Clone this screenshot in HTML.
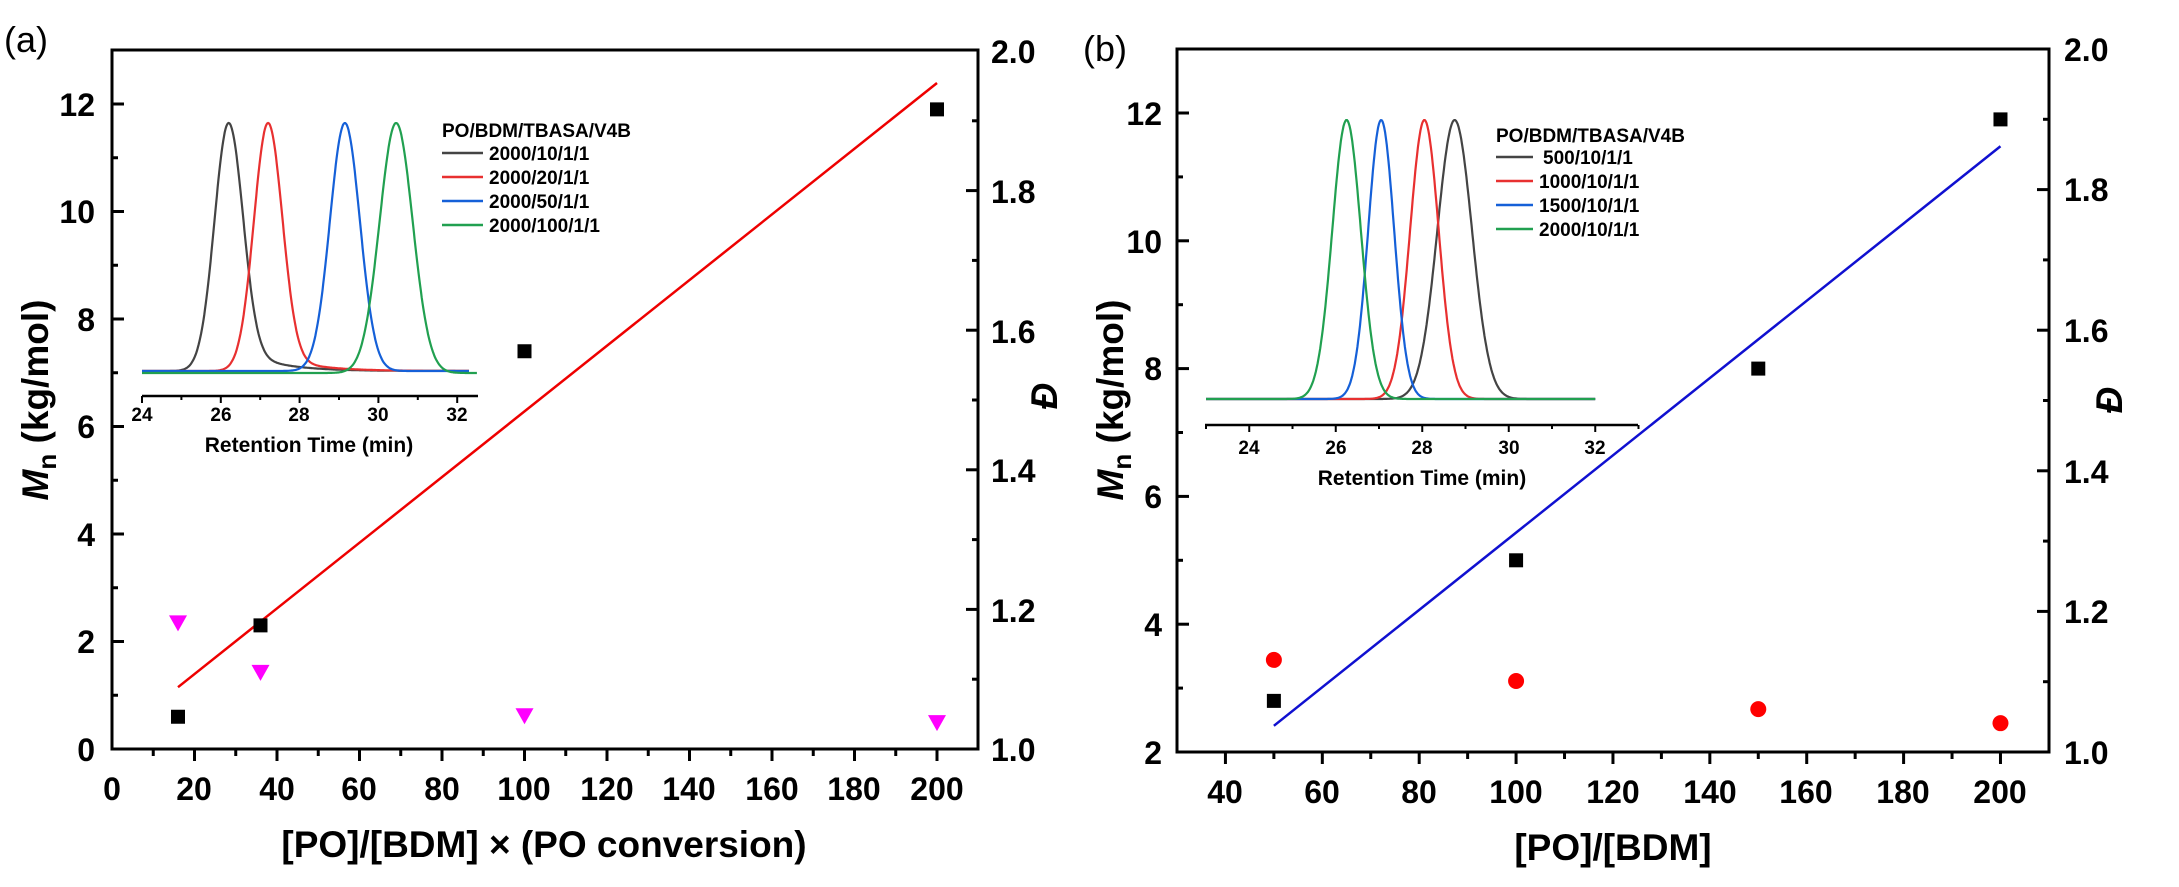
<!DOCTYPE html>
<html><head><meta charset="utf-8"><style>
html,body{margin:0;padding:0;background:#fff;}
svg{display:block;font-family:"Liberation Sans",Arial,sans-serif;}
.t{font-weight:bold;font-size:32px;fill:#000;}
.ti{font-weight:bold;font-size:37px;fill:#000;}
.s{font-weight:bold;font-size:19px;fill:#000;}
.it{font-weight:bold;font-size:21px;fill:#000;}
</style></head><body>
<svg id="sv" width="2179" height="887" viewBox="0 0 2179 887" xmlns="http://www.w3.org/2000/svg">
<rect width="2179" height="887" fill="#fff"/>
<g id="g"></g>
<!-- Panel a text -->
<text x="4" y="52" font-size="36" fill="#000">(a)</text>
<g class="t" text-anchor="middle">
<text x="112" y="800">0</text><text x="194" y="800">20</text><text x="277" y="800">40</text><text x="359" y="800">60</text><text x="442" y="800">80</text><text x="524" y="800">100</text><text x="607" y="800">120</text><text x="689" y="800">140</text><text x="772" y="800">160</text><text x="854" y="800">180</text><text x="937" y="800">200</text>
</g>
<g class="t" text-anchor="end">
<text x="95" y="761">0</text><text x="95" y="653">2</text><text x="95" y="546">4</text><text x="95" y="438">6</text><text x="95" y="331">8</text><text x="95" y="223">10</text><text x="95" y="116">12</text>
</g>
<g class="t" text-anchor="start">
<text x="991" y="761">1.0</text><text x="991" y="622">1.2</text><text x="991" y="482">1.4</text><text x="991" y="343">1.6</text><text x="991" y="203">1.8</text><text x="991" y="63">2.0</text>
</g>
<text class="ti" x="544" y="857" text-anchor="middle">[PO]/[BDM] × (PO conversion)</text>
<text class="ti" transform="translate(48,400) rotate(-90)" text-anchor="middle"><tspan font-style="italic">M</tspan><tspan font-size="26" dy="8">n</tspan><tspan dy="-8"> (kg/mol)</tspan></text>
<text class="ti" transform="translate(1057,396) rotate(-90)" text-anchor="middle" font-style="italic">Đ</text>
<g class="s" text-anchor="middle">
<text x="142" y="421">24</text><text x="221" y="421">26</text><text x="299" y="421">28</text><text x="378" y="421">30</text><text x="457" y="421">32</text>
</g>
<text class="it" x="309" y="452" text-anchor="middle">Retention Time (min)</text>
<g class="s">
<text x="442" y="137">PO/BDM/TBASA/V4B</text>
<text x="489" y="160">2000/10/1/1</text><text x="489" y="184">2000/20/1/1</text><text x="489" y="208">2000/50/1/1</text><text x="489" y="232">2000/100/1/1</text>
</g>
<!-- Panel b text -->
<text x="1083" y="61" font-size="36" fill="#000">(b)</text>
<g class="t" text-anchor="middle">
<text x="1225" y="803">40</text><text x="1322" y="803">60</text><text x="1419" y="803">80</text><text x="1516" y="803">100</text><text x="1613" y="803">120</text><text x="1710" y="803">140</text><text x="1806" y="803">160</text><text x="1903" y="803">180</text><text x="2000" y="803">200</text>
</g>
<g class="t" text-anchor="end">
<text x="1162" y="764">2</text><text x="1162" y="636">4</text><text x="1162" y="508">6</text><text x="1162" y="380">8</text><text x="1162" y="253">10</text><text x="1162" y="125">12</text>
</g>
<g class="t" text-anchor="start">
<text x="2064" y="764">1.0</text><text x="2064" y="623">1.2</text><text x="2064" y="483">1.4</text><text x="2064" y="342">1.6</text><text x="2064" y="201">1.8</text><text x="2064" y="61">2.0</text>
</g>
<text class="ti" x="1613" y="860" text-anchor="middle">[PO]/[BDM]</text>
<text class="ti" transform="translate(1123,400) rotate(-90)" text-anchor="middle"><tspan font-style="italic">M</tspan><tspan font-size="26" dy="8">n</tspan><tspan dy="-8"> (kg/mol)</tspan></text>
<text class="ti" transform="translate(2122,400) rotate(-90)" text-anchor="middle" font-style="italic">Đ</text>
<g class="s" text-anchor="middle">
<text x="1249" y="454">24</text><text x="1336" y="454">26</text><text x="1422" y="454">28</text><text x="1509" y="454">30</text><text x="1595" y="454">32</text>
</g>
<text class="it" x="1422" y="485" text-anchor="middle">Retention Time (min)</text>
<g class="s">
<text x="1496" y="142">PO/BDM/TBASA/V4B</text>
<text x="1543" y="164">500/10/1/1</text><text x="1539" y="188">1000/10/1/1</text><text x="1539" y="212">1500/10/1/1</text><text x="1539" y="236">2000/10/1/1</text>
</g>
</svg>
<script>
var g=document.getElementById('g'),NS='http://www.w3.org/2000/svg';
function el(t,a){var e=document.createElementNS(NS,t);for(var k in a)e.setAttribute(k,a[k]);g.appendChild(e);return e;}
function L(x1,y1,x2,y2,c,w){el('line',{x1:x1,y1:y1,x2:x2,y2:y2,stroke:c||'#000','stroke-width':w||3});}
// Panel a
var ax=function(v){return 112+v*4.125},ay=function(v){return 749-v*53.75},ad=function(v){return 749-(v-1)*698};
el('rect',{x:112,y:50,width:866,height:699,fill:'none',stroke:'#000','stroke-width':3});
for(var v=10;v<=200;v+=10){L(ax(v),749,ax(v),749+(v%20?7:12));}
for(var v=1;v<=12;v++){L(112,ay(v),112+(v%2?6:12),ay(v));}
for(var v=1.1;v<1.95;v+=0.1){var k=Math.round(v*10)%2;L(978,ad(v),978-(k?6:12),ad(v));}
L(ax(16),ay(1.15),ax(200),ay(12.39),'#e00',2.5);
[[16,.6],[36,2.3],[100,7.4],[200,11.9]].forEach(function(p){el('rect',{x:ax(p[0])-7,y:ay(p[1])-7,width:14,height:14,fill:'#000'})});
[[16,1.18],[36,1.109],[100,1.047],[200,1.037]].forEach(function(p){var x=ax(p[0]),y=ad(p[1]);el('polygon',{points:(x-9)+','+(y-8)+' '+(x+9)+','+(y-8)+' '+x+','+(y+8),fill:'#f0f'})});
// inset a
var ix=function(t){return 142+(t-24)*39.4};
L(142,396,478,396,'#000',2.5);
for(var t=24;t<=32;t++){L(ix(t),396,ix(t),396+(t%2?4:7),'#000',2);}
function curve(xf,base,h,mu,sg,tail,t0,t1,col){var d='';for(var t=t0;t<=t1;t+=0.02){var y=Math.exp(-Math.pow((t-mu)/sg,2)/2);if(tail&&t>mu)y+=tail*Math.exp(-(t-mu)/0.9)*(1-Math.exp(-Math.pow((t-mu)/0.6,2)));d+=(d?'L':'M')+xf(t).toFixed(1)+','+(base-h*y).toFixed(1);}el('path',{d:d,fill:'none',stroke:col,'stroke-width':2.2});}
curve(ix,371,248,26.2,0.36,0.12,24,32.3,'#444');
curve(ix,371,248,27.2,0.36,0.08,24,32.3,'#e83030');
curve(ix,371,248,29.15,0.38,0,24,32.3,'#1560d8');
curve(ix,373,250,30.45,0.42,0,24,32.5,'#21a050');
[['#444',153],['#e83030',177],['#1560d8',201],['#21a050',225]].forEach(function(c){L(442,c[1],483,c[1],c[0],2.5)});
// Panel b
var bx=function(v){return 1177+(v-30)*4.844},by=function(v){return 752-(v-2)*63.9},bd=function(v){return 752-(v-1)*703};
el('rect',{x:1177,y:49,width:872,height:703,fill:'none',stroke:'#000','stroke-width':3});
for(var v=40;v<=200;v+=10){L(bx(v),752,bx(v),752+(v%20?7:12));}
for(var v=3;v<=12;v++){L(1177,by(v),1177+(v%2?6:12),by(v));}
for(var v=1.1;v<1.95;v+=0.1){var k=Math.round(v*10)%2;L(2049,bd(v),2049-(k?6:12),bd(v));}
L(bx(50),by(2.41),bx(200),by(11.48),'#1010d0',2.5);
[[50,2.8],[100,5],[150,8],[200,11.9]].forEach(function(p){el('rect',{x:bx(p[0])-7,y:by(p[1])-7,width:14,height:14,fill:'#000'})});
[[50,1.131],[100,1.101],[150,1.061],[200,1.041]].forEach(function(p){el('circle',{cx:bx(p[0]),cy:bd(p[1]),r:8,fill:'#f00'})});
var jx=function(t){return 1206+(t-23)*43.25};
L(1205,425,1638,425,'#000',2.5);
for(var t=23;t<=33;t++){L(jx(t),425,jx(t),425+(t%2?4:7),'#000',2);}
curve(jx,399,279,28.75,0.40,0,23,32,'#444');
curve(jx,399,279,28.05,0.33,0,23,32,'#e83030');
curve(jx,399,279,27.05,0.30,0,23,32,'#1560d8');
curve(jx,399,279,26.25,0.33,0,23,32,'#21a050');
[['#444',157],['#e83030',181],['#1560d8',205],['#21a050',229]].forEach(function(c){L(1496,c[1],1533,c[1],c[0],2.5)});
</script>
</body></html>
